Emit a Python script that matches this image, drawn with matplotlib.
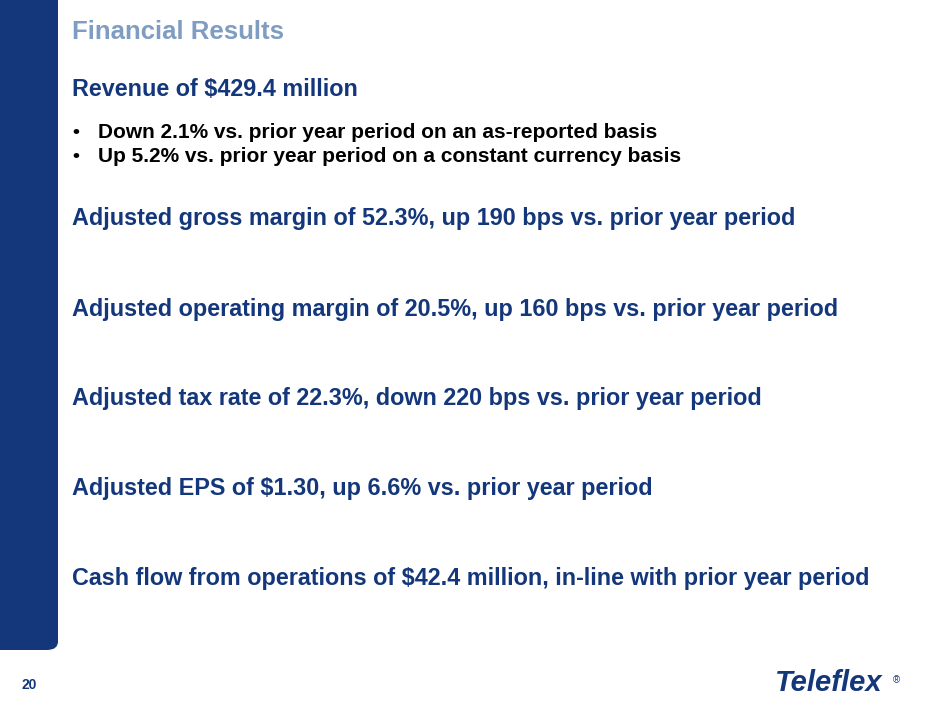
import matplotlib.pyplot as plt
from matplotlib.patches import FancyBboxPatch, Rectangle

title = "Financial Results"
headlines = [
    "Revenue of $429.4 million",
    "Adjusted gross margin of 52.3%, up 190 bps vs. prior year period",
    "Adjusted operating margin of 20.5%, up 160 bps vs. prior year period",
    "Adjusted tax rate of 22.3%, down 220 bps vs. prior year period",
    "Adjusted EPS of $1.30, up 6.6% vs. prior year period",
    "Cash flow from operations of $42.4 million, in-line with prior year period",
]
headline_y = [90, 218, 309, 399, 489, 578]
bullets = [
    "Down 2.1% vs. prior year period on an as-reported basis",
    "Up 5.2% vs. prior year period on a constant currency basis",
]
bullet_y = [132, 157]
page_no = "20"

W, H = 940, 705
navy = "#13377a"
fig = plt.figure(figsize=(9.4, 7.05), dpi=100)
fig.patch.set_facecolor("white")
font = "Liberation Sans"

def fx(x):
    return x / W

def fy(y):
    return 1 - y / H

# left bar, rounded bottom-right corner
fig.patches.append(FancyBboxPatch((fx(0), fy(650)), fx(58), 650 / H,
                                  boxstyle="round,pad=0,rounding_size=0.012",
                                  transform=fig.transFigure, color=navy, lw=0))
fig.patches.append(Rectangle((fx(0), fy(650)), fx(20), 650 / H,
                             transform=fig.transFigure, color=navy, lw=0))
fig.patches.append(Rectangle((fx(0), fy(630)), fx(58), 630 / H,
                             transform=fig.transFigure, color=navy, lw=0))

fig.text(fx(72), fy(32), title, family=font, weight="bold", fontsize=18.5,
         color="#7f9cc2", va="center")
for t, y in zip(headlines, headline_y):
    fig.text(fx(72), fy(y), t, family=font, weight="bold", fontsize=16.8,
             color=navy, va="center")
for t, y in zip(bullets, bullet_y):
    fig.text(fx(72), fy(y), "\u2022", family=font, weight="bold", fontsize=14,
             color="black", va="center")
    fig.text(fx(98), fy(y), t, family=font, weight="bold", fontsize=15,
             color="black", va="center")

fig.text(fx(22), fy(685), page_no, family=font, weight="bold", fontsize=10,
         color=navy, va="center")
fig.text(fx(775), fy(683), "Teleflex", family=font, weight="bold", fontsize=21,
         color=navy, va="center", style="italic")
fig.text(fx(893), fy(680), "\u00ae", family=font, fontsize=7, color=navy, va="center")

fig.savefig("out.png", dpi=100)
